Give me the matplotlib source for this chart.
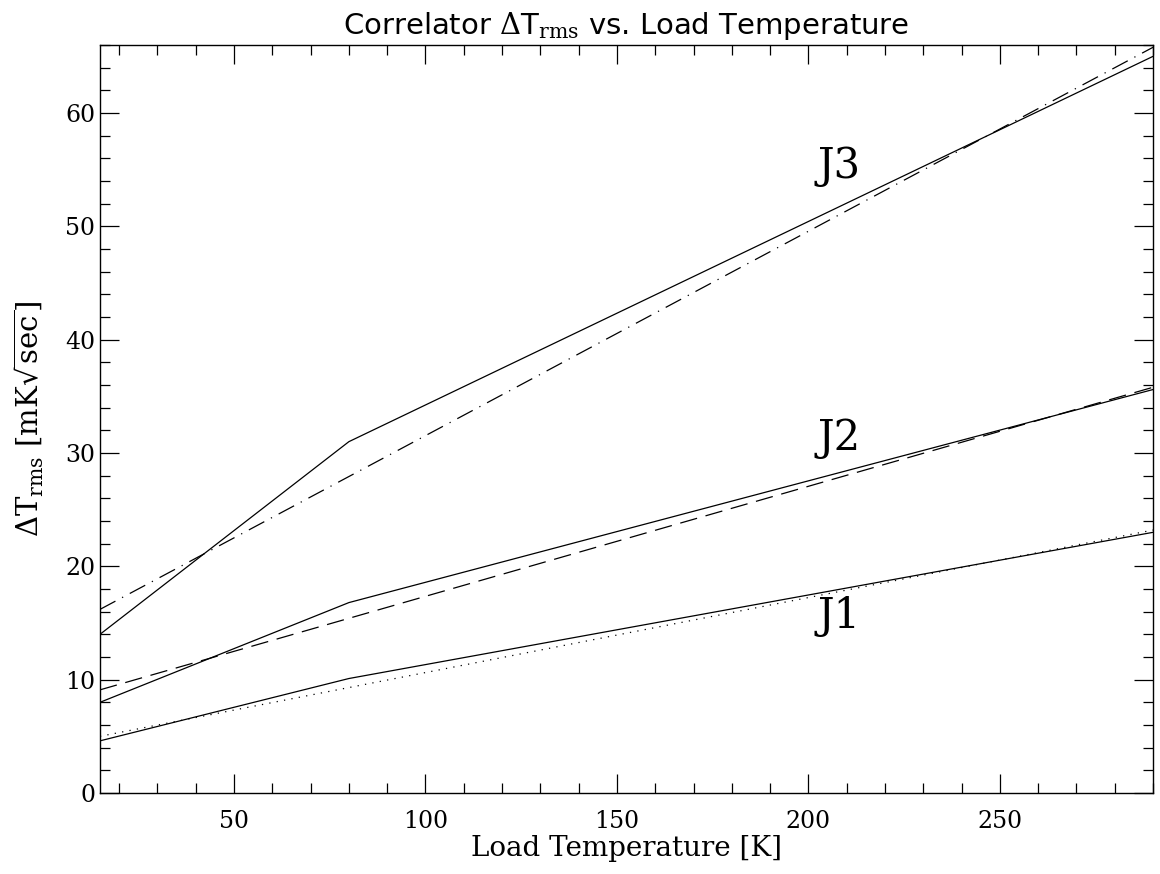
import matplotlib
matplotlib.use('Agg')
import matplotlib.pyplot as plt
from matplotlib.ticker import MultipleLocator

plt.rcParams['mathtext.fontset'] = 'dejavuserif'

# load temperatures [K]
t_meas = [15, 80, 290]
t_model = [15, 290]

# measured dT_rms [mK sqrt(sec)]
j1_meas = [4.6, 10.1, 23.0]
j2_meas = [8.0, 16.8, 35.6]
j3_meas = [14.0, 31.0, 65.0]

# model curves
j1_model = [5.0, 23.2]
j2_model = [9.1, 35.8]
j3_model = [16.2, 65.8]

labels = ['J1', 'J2', 'J3']
label_x = [208, 208, 208]
label_y = [15.6, 31.3, 55.3]

fig = plt.figure(figsize=(11.6, 8.74), dpi=100)
ax = fig.add_axes([0.0862, 0.0927, 0.9078, 0.8558])

lw = 0.9
ax.plot(t_meas, j1_meas, color='black', lw=lw)
ax.plot(t_meas, j2_meas, color='black', lw=lw)
ax.plot(t_meas, j3_meas, color='black', lw=lw)
ax.plot(t_model, j1_model, color='black', lw=lw, linestyle=(0, (1, 5)))
ax.plot(t_model, j2_model, color='black', lw=lw, linestyle=(0, (14, 7)))
ax.plot(t_model, j3_model, color='black', lw=lw, linestyle=(0, (14, 6, 1, 6)))

for lab, x, y in zip(labels, label_x, label_y):
    ax.text(x, y, lab, fontsize=30, family='DejaVu Serif', ha='center',
            va='center', fontweight='light')

ax.set_xlim(15, 290)
ax.set_ylim(0, 66)
ax.xaxis.set_major_locator(MultipleLocator(50))
ax.xaxis.set_minor_locator(MultipleLocator(10))
ax.yaxis.set_major_locator(MultipleLocator(10))
ax.yaxis.set_minor_locator(MultipleLocator(2))
ax.tick_params(which='both', direction='in', top=True, right=True,
               labelsize=17, width=0.9)
ax.tick_params(which='major', length=14)
ax.tick_params(which='minor', length=7)
for lbl in ax.get_xticklabels() + ax.get_yticklabels():
    lbl.set_family('DejaVu Serif')
ax.tick_params(axis='x', pad=12)
for sp in ax.spines.values():
    sp.set_linewidth(1.0)

ax.set_title(r'Correlator $\Delta$T$_{\rm rms}$ vs. Load Temperature',
             fontsize=21, family='DejaVu Sans', pad=8)
ax.set_xlabel('Load Temperature [K]', fontsize=20, family='DejaVu Serif',
              labelpad=2)
ax.set_ylabel(r'$\Delta$T$_{\rm rms}$ [mK$\sqrt{\rm sec}$]', fontsize=21,
              family='DejaVu Serif', labelpad=14)

fig.savefig('out.png', dpi=100)
